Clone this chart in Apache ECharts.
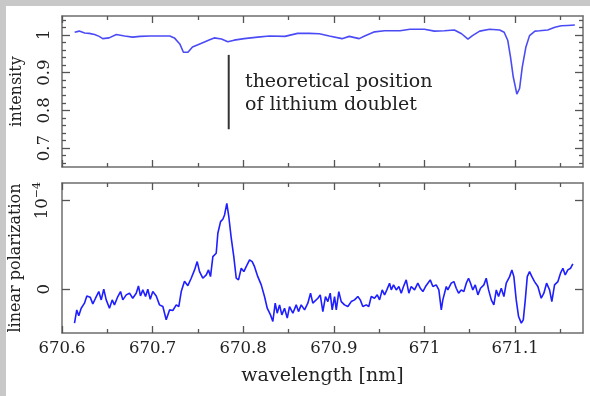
<!DOCTYPE html>
<html>
<head>
<meta charset="utf-8">
<script src="https://cdn.jsdelivr.net/npm/echarts@6/dist/echarts.min.js"></script>
<style>
  html, body { margin: 0; padding: 0; background: #fff; }
  #chart { width: 590px; height: 396px; }
</style>
</head>
<body>
<div id="chart"></div>
<script>
// wavelength axis, nm
const X_MIN = 670.6;
const X_MAX = 671.175;
const xMajorTicks = [670.6, 670.7, 670.8, 670.9, 671.0, 671.1];
const xMinorTicks = [670.65, 670.75, 670.85, 670.95, 671.05, 671.15];

// upper panel: intensity
const intensityMajorTicks = [0.7, 0.8, 0.9, 1.0];
const intensityMinorTicks = [0.66, 0.68, 0.72, 0.74, 0.76, 0.78, 0.82, 0.84, 0.86, 0.88,
  0.92, 0.94, 0.96, 0.98, 1.02, 1.04];

const topWavelength = [670.614, 670.619, 670.625, 670.630, 670.636, 670.641, 670.645, 670.652,
  670.660, 670.669, 670.678, 670.686, 670.697, 670.708, 670.719, 670.724, 670.730, 670.734,
  670.739, 670.744, 670.752, 670.763, 670.768, 670.776, 670.783, 670.790, 670.801, 670.816,
  670.829, 670.846, 670.860, 670.873, 670.884, 670.895, 670.909, 670.917, 670.928, 670.934,
  670.945, 670.956, 670.973, 670.984, 671.000, 671.011, 671.022, 671.033, 671.041, 671.048,
  671.053, 671.061, 671.072, 671.083, 671.088, 671.092, 671.095, 671.098, 671.102, 671.105,
  671.108, 671.112, 671.116, 671.122, 671.127, 671.136, 671.144, 671.151, 671.158, 671.166];
const intensity = [1.007, 1.010, 1.005, 1.004, 1.001, 0.996, 0.990, 0.992,
  1.001, 0.997, 0.994, 0.996, 0.997, 0.997, 0.997, 0.992, 0.976, 0.954,
  0.954, 0.968, 0.976, 0.987, 0.992, 0.989, 0.982, 0.986, 0.990, 0.994,
  0.997, 0.996, 1.004, 1.004, 1.003, 0.997, 0.990, 0.996, 0.990, 0.997,
  1.008, 1.011, 1.011, 1.015, 1.015, 1.010, 1.011, 1.013, 1.003, 0.989,
  0.998, 1.010, 1.015, 1.013, 1.007, 0.985, 0.941, 0.889, 0.843, 0.858,
  0.915, 0.968, 0.998, 1.010, 1.011, 1.013, 1.020, 1.024, 1.025, 1.026];

// theoretical Li doublet position marker [wavelength, intensity]
const lithiumMarker = [[670.784, 0.947], [670.784, 0.75]];

// lower panel: linear polarization, in units of 1e-4
const polTicks = [0, 1];
const polWavelength = [670.6138, 670.6163, 670.6185, 670.6212, 670.6248, 670.6274, 670.6311, 670.6340,
  670.6370, 670.6406, 670.6433, 670.6461, 670.6488, 670.6524, 670.6554, 670.6579, 670.6616, 670.6646,
  670.6671, 670.6709, 670.6745, 670.6781, 670.6819, 670.6844, 670.6866, 670.6892, 670.6922, 670.6947,
  670.6974, 670.7002, 670.7040, 670.7076, 670.7113, 670.7150, 670.7187, 670.7223, 670.7261, 670.7289,
  670.7316, 670.7352, 670.7389, 670.7426, 670.7463, 670.7492, 670.7518, 670.7554, 670.7592, 670.7617,
  670.7639, 670.7665, 670.7702, 670.7720, 670.7750, 670.7775, 670.7794, 670.7819, 670.7841, 670.7868,
  670.7896, 670.7923, 670.7948, 670.7978, 670.8007, 670.8033, 670.8070, 670.8099, 670.8125, 670.8161,
  670.8199, 670.8235, 670.8265, 670.8301, 670.8327, 670.8353, 670.8375, 670.8401, 670.8426, 670.8456,
  670.8486, 670.8511, 670.8548, 670.8585, 670.8610, 670.8640, 670.8677, 670.8713, 670.8743, 670.8768,
  670.8824, 670.8850, 670.8879, 670.8908, 670.8934, 670.8960, 670.8982, 670.9008, 670.9027, 670.9055,
  670.9082, 670.9118, 670.9155, 670.9192, 670.9229, 670.9265, 670.9292, 670.9320, 670.9358, 670.9386,
  670.9413, 670.9449, 670.9479, 670.9505, 670.9534, 670.9560, 670.9585, 670.9615, 670.9634, 670.9659,
  670.9689, 670.9718, 670.9744, 670.9769, 670.9799, 670.9828, 670.9854, 670.9891, 670.9927, 670.9954,
  670.9983, 671.0012, 671.0038, 671.0064, 671.0093, 671.0130, 671.0159, 671.0186, 671.0203, 671.0241,
  671.0258, 671.0296, 671.0325, 671.0351, 671.0377, 671.0406, 671.0435, 671.0462, 671.0487, 671.0509,
  671.0534, 671.0561, 671.0590, 671.0619, 671.0656, 671.0682, 671.0708, 671.0738, 671.0766, 671.0793,
  671.0818, 671.0848, 671.0877, 671.0903, 671.0940, 671.0965, 671.0987, 671.1013, 671.1039, 671.1069,
  671.1091, 671.1113, 671.1135, 671.1160, 671.1186, 671.1215, 671.1252, 671.1289, 671.1318, 671.1348,
  671.1381, 671.1406, 671.1436, 671.1473, 671.1502, 671.1528, 671.1554, 671.1583, 671.1613, 671.1638];
const polarization = [-0.384, -0.234, -0.300, -0.215, -0.158, -0.076, -0.090, -0.166,
  -0.102, -0.027, -0.121, 0.000, -0.121, -0.215, -0.121, -0.177, -0.083, -0.027,
  -0.121, -0.064, -0.045, -0.102, -0.045, 0.037, -0.076, -0.008, -0.083, 0.000,
  -0.113, -0.027, -0.076, -0.177, -0.196, -0.346, -0.234, -0.241, -0.177, -0.196,
  -0.027, 0.090, 0.040, 0.124, 0.218, 0.312, 0.199, 0.124, 0.161, 0.218,
  0.142, 0.368, 0.406, 0.632, 0.763, 0.790, 0.839, 0.970, 0.819, 0.576,
  0.368, 0.124, 0.105, 0.237, 0.199, 0.255, 0.331, 0.312, 0.255, 0.142,
  0.049, -0.083, -0.215, -0.290, -0.365, -0.158, -0.271, -0.177, -0.290, -0.215,
  -0.327, -0.196, -0.271, -0.177, -0.253, -0.177, -0.234, -0.158, -0.045, -0.158,
  -0.102, -0.064, -0.253, -0.083, -0.140, -0.045, -0.234, -0.083, -0.234, -0.027,
  -0.140, -0.177, -0.196, -0.140, -0.121, -0.083, -0.121, -0.196, -0.177, -0.196,
  -0.083, -0.102, -0.064, -0.121, -0.008, -0.064, -0.008, 0.068, -0.008, 0.049,
  -0.008, 0.030, -0.045, 0.030, 0.105, -0.045, 0.030, -0.008, 0.068, 0.011,
  -0.027, 0.030, 0.068, 0.105, 0.030, 0.049, -0.008, -0.234, -0.121, 0.030,
  -0.008, 0.068, 0.086, 0.011, -0.045, -0.008, -0.027, 0.068, 0.124, 0.068,
  -0.008, 0.049, -0.064, 0.011, 0.049, 0.124, -0.008, -0.121, -0.177, -0.008,
  -0.083, 0.011, -0.083, 0.068, 0.142, 0.218, 0.142, -0.121, -0.309, -0.384,
  -0.346, -0.121, 0.142, 0.199, 0.142, 0.086, 0.030, -0.102, -0.045, 0.068,
  -0.008, -0.140, 0.049, 0.086, 0.181, 0.237, 0.161, 0.218, 0.237, 0.286];

const zip = (xs, ys) => xs.map((x, i) => [x, ys[i]]);

const SERIF = 'DejaVu Serif';
const frameLine = { show: true, onZero: false, lineStyle: { color: '#6e6e6e', width: 1.5 } };
const noLine = { show: false, onZero: false };
const tickStyle = { color: '#555', width: 1.3 };
const tickFont = { fontFamily: SERIF, fontSize: 16.5, color: '#222' };

function xAx(gridIndex, position, values, len, labels) {
  return {
    type: 'value', gridIndex, position, min: X_MIN, max: X_MAX,
    axisLine: len > 5 ? frameLine : noLine,
    axisTick: { show: true, inside: true, length: len, customValues: values, lineStyle: tickStyle },
    axisLabel: labels
      ? Object.assign({ customValues: values, margin: 7, formatter: v => String(+v.toFixed(1)) }, tickFont)
      : { show: false },
    splitLine: { show: false }
  };
}

function yAx(gridIndex, position, min, max, values, len, label) {
  return {
    type: 'value', gridIndex, position, min, max,
    axisLine: len > 5 ? frameLine : noLine,
    axisTick: { show: true, inside: true, length: len, customValues: values, lineStyle: tickStyle },
    axisLabel: label ? Object.assign({ customValues: values, rotate: 90, margin: 9 }, tickFont, label) : { show: false },
    splitLine: { show: false }
  };
}

const chart = echarts.init(document.getElementById('chart'));
chart.setOption({
  animation: false,
  backgroundColor: '#fff',
  graphic: [
    { type: 'rect', shape: { x: 0, y: 0, width: 590, height: 6 }, style: { fill: '#c8c8c8' } },
    { type: 'rect', shape: { x: 0, y: 0, width: 6, height: 396 }, style: { fill: '#c8c8c8' } },
    {
      type: 'text', left: 245, top: 71,
      style: { text: 'theoretical position\nof lithium doublet', font: '19px "DejaVu Serif"', fill: '#222', lineHeight: 23 }
    }
  ],
  grid: [
    { left: 62, top: 16, width: 521, height: 151 },
    { left: 62, top: 183, width: 521, height: 150 }
  ],
  xAxis: [
    xAx(0, 'bottom', xMajorTicks, 7, false),
    xAx(0, 'bottom', xMinorTicks, 4, false),
    xAx(0, 'top', xMajorTicks, 7, false),
    xAx(0, 'top', xMinorTicks, 4, false),
    Object.assign(xAx(1, 'bottom', xMajorTicks, 7, true), {
      name: 'wavelength [nm]', nameLocation: 'middle', nameGap: 34,
      nameTextStyle: { fontFamily: SERIF, fontSize: 19, color: '#222' }
    }),
    xAx(1, 'bottom', xMinorTicks, 4, false),
    xAx(1, 'top', xMajorTicks, 7, false),
    xAx(1, 'top', xMinorTicks, 4, false)
  ],
  yAxis: [
    Object.assign(yAx(0, 'left', 0.65, 1.05, intensityMajorTicks, 8, { formatter: v => String(+v.toFixed(1)) }), {
      name: 'intensity', nameLocation: 'middle', nameGap: 37,
      nameTextStyle: { fontFamily: SERIF, fontSize: 16, color: '#222' }
    }),
    yAx(0, 'left', 0.65, 1.05, intensityMinorTicks, 4, null),
    yAx(0, 'right', 0.65, 1.05, intensityMajorTicks, 8, null),
    yAx(0, 'right', 0.65, 1.05, intensityMinorTicks, 4, null),
    Object.assign(yAx(1, 'left', -0.495, 1.2, polTicks, 8, {
      formatter: v => (v === 1 ? '10{s|−4}' : String(v)),
      rich: { s: { fontFamily: SERIF, fontSize: 11, color: '#222', verticalAlign: 'top', padding: [0, 0, 10, 0] } }
    }), {
      name: 'linear polarization', nameLocation: 'middle', nameGap: 37,
      nameTextStyle: { fontFamily: SERIF, fontSize: 16, color: '#222' }
    }),
    yAx(1, 'right', -0.495, 1.2, polTicks, 8, null)
  ],
  series: [
    {
      type: 'line', xAxisIndex: 0, yAxisIndex: 0, data: zip(topWavelength, intensity),
      showSymbol: false, lineStyle: { color: '#4b4bf6', width: 1.6 }
    },
    {
      type: 'line', xAxisIndex: 0, yAxisIndex: 0, data: lithiumMarker,
      showSymbol: false, lineStyle: { color: '#333', width: 2 }
    },
    {
      type: 'line', xAxisIndex: 4, yAxisIndex: 4, data: zip(polWavelength, polarization),
      showSymbol: false, lineStyle: { color: '#1e1eff', width: 1.6 }
    }
  ]
});
</script>
</body>
</html>
